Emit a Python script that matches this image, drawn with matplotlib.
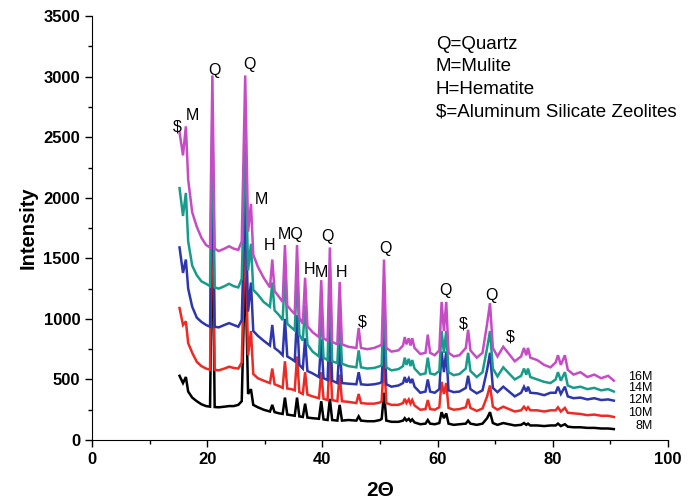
import matplotlib
matplotlib.use("Agg")
import matplotlib.pyplot as plt
from matplotlib.ticker import MultipleLocator

plt.rcParams['font.family'] = ['Liberation Sans', 'DejaVu Sans']

# 2-theta positions (deg), shared by all samples
two_theta = [
    15.2, 15.8, 16.3, 16.7, 17.4, 18.2, 19.0, 19.8, 20.5, 20.9, 21.3, 22.0, 23.0, 23.8, 24.6, 25.4, 26.0,
    26.6, 27.1, 27.6, 28.0, 28.8, 29.8, 30.9,
    31.3, 31.7, 32.5, 33.1, 33.5, 33.9, 34.6, 35.2, 35.6, 36.0, 36.6, 37.0, 37.4, 38.3, 39.4, 39.8,
    40.2, 40.9, 41.3, 41.7, 42.6, 43.0, 43.4,
    44.5, 45.9, 46.3, 46.7, 47.8, 49.0, 50.0, 50.3, 50.7, 51.1, 52.0, 53.2,
    54.0, 54.3, 54.6, 55.0, 55.3, 55.6, 56.0, 57.0, 57.9, 58.3, 58.7, 59.5,
    60.3, 60.7, 61.1, 61.5, 61.9, 62.8, 63.8, 64.9, 65.3, 65.7, 66.8, 67.8,
    68.6, 69.1, 69.6, 70.4, 71.4, 72.4, 73.4, 74.5, 75.0, 75.4, 75.7, 76.1, 77.3, 78.5, 79.6,
    80.5, 80.9, 81.4, 82.1, 82.6, 83.6, 84.8, 86.0, 87.2, 88.4, 89.6, 90.6,
]

int_8M = [
    530, 470, 520, 400, 350, 320, 295, 280, 275, 1900, 272, 270, 275, 280, 280, 290, 320,
    1500, 380, 420, 290, 270, 250, 235,
    290, 230, 220, 215, 350, 210, 205, 200, 350, 195, 190, 300, 185, 180, 175, 320,
    170, 165, 340, 165, 160, 290, 160,
    165, 160, 195, 160, 155, 155, 165, 175, 390, 160, 150, 150,
    160, 180, 160, 175, 155, 170, 145, 130, 135, 165, 135, 130,
    140, 230, 180, 220, 135, 125, 130, 135, 160, 135, 125, 135,
    180, 230, 140, 125, 140, 130, 120, 125, 140, 125, 135, 120, 120, 115, 120,
    120, 135, 115, 130, 110, 105, 105, 100, 100, 95, 95, 90,
]

int_10M = [
    1090, 950, 980, 800, 720, 645, 610, 590, 580, 2300, 580, 575, 590, 605, 595, 590, 640,
    1800, 700, 900, 545, 510, 490, 470,
    590, 460, 445, 430, 650, 425, 420, 410, 690, 395, 380, 560, 375, 360, 345, 560,
    340, 330, 700, 330, 320, 540, 320,
    315, 305, 380, 305, 300, 300, 310, 320, 700, 305, 290, 290,
    305, 340, 305, 335, 300, 330, 285, 250, 255, 330, 255, 250,
    270, 480, 380, 470, 265, 250, 255, 270, 340, 265, 240, 260,
    360, 450, 275, 250, 275, 255, 235, 245, 275, 250, 270, 245, 245, 235, 245,
    245, 270, 235, 265, 225, 220, 215, 205, 210, 200, 200, 190,
]

int_12M = [
    1590, 1380, 1490, 1250, 1100, 1010, 975, 950, 935, 2450, 935, 930, 950, 965, 950, 935, 990,
    2050, 1060, 1300, 900, 860, 820, 780,
    950, 760, 730, 700, 1000, 690, 670, 650, 1030, 620, 590, 840, 570, 550, 520, 830,
    510, 495, 1000, 490, 470, 800, 470,
    465, 460, 560, 460, 455, 460, 470, 480, 950, 460, 440, 450,
    470, 520, 475, 510, 470, 505, 440, 390, 400, 500, 400, 390,
    420, 730, 560, 730, 410, 395, 400, 430, 530, 420, 385, 410,
    580, 720, 430, 395, 440, 400, 360, 390, 440, 400, 440, 390, 385, 370, 390,
    390, 440, 380, 440, 360, 345, 350, 335, 345, 330, 335, 325,
]

int_14M = [
    2080, 1850, 2040, 1640, 1440, 1360, 1310, 1290, 1270, 2700, 1260, 1250, 1270, 1290, 1270, 1260, 1330,
    2450, 1400, 1620, 1240, 1200, 1140, 1100,
    1300, 1070, 1030, 990, 1370, 960, 930, 905, 1370, 870, 820, 1110, 790, 730, 690, 1070,
    680, 660, 1280, 650, 635, 1040, 630,
    610, 600, 740, 600, 590, 595, 610, 620, 1200, 600, 575, 585,
    610, 680, 620, 670, 610, 660, 590, 540, 550, 680, 550, 540,
    570, 900, 720, 900, 560, 535, 545, 590, 720, 570, 520, 560,
    760, 900, 590, 525, 600, 550, 500, 530, 590, 540, 590, 520, 500, 480, 470,
    500, 560, 490, 560, 450, 430, 440, 420, 430, 410, 420, 400,
]

int_16M = [
    2540, 2350, 2590, 2150, 1880, 1760, 1670, 1610, 1590, 3010, 1580, 1560, 1580, 1600, 1580, 1570, 1640,
    3010, 1720, 1950, 1530, 1430, 1340, 1260,
    1490, 1230, 1180, 1140, 1610, 1110, 1070, 1040, 1610, 1010, 960, 1340, 940, 890, 850, 1320,
    840, 820, 1590, 810, 790, 1305, 790,
    770, 760, 925, 760, 750, 760, 780, 790, 1490, 760, 730, 740,
    780, 850, 790, 840, 780, 840, 760, 710, 720, 870, 720, 700,
    740, 1140, 900, 1140, 720, 690, 700, 760, 910, 740, 680, 720,
    960, 1130, 760, 690, 770, 710, 650, 690, 760, 700, 760, 680, 660, 620, 600,
    640, 700, 620, 700, 580, 540, 560, 520, 540, 510, 530, 490,
]

samples = ['8M', '10M', '12M', '14M', '16M']
colors = ['#000000', '#ee2a24', '#2d36ad', '#179c8b', '#c64cc6']
label_y = [112, 220, 332, 428, 522]

# phase marks above the peaks
phase_marks = ['$', 'M', 'Q', 'Q', 'M', 'H', 'MQ', 'Q', 'H', 'M', 'H', '$', 'Q', 'Q', '$', 'Q', '$']
mark_x = [14.9, 17.5, 21.2, 27.3, 29.5, 30.9, 34.4, 40.8, 37.7, 39.9, 43.4, 46.9, 50.9, 61.3, 64.4, 69.4, 72.7]
mark_y = [2585, 2683, 3055, 3104, 1982, 1610, 1700, 1684, 1404, 1380, 1387, 974, 1585, 1238, 958, 1189, 850]

key_lines = ['Q=Quartz', 'M=Mulite', 'H=Hematite', '$=Aluminum Silicate Zeolites']

fig = plt.figure(figsize=(6.89, 5.04), dpi=100)
ax = fig.add_axes([0.1335, 0.127, 0.836, 0.841])

series = [int_8M, int_10M, int_12M, int_14M, int_16M]
for ys, c in zip(series, colors):
    ax.plot(two_theta, ys, color=c, lw=1.8, solid_joinstyle='miter')

for name, ly in zip(samples, label_y):
    ax.text(97.3, ly, name, ha='right', va='center', fontsize=9)

for m, mx, my in zip(phase_marks, mark_x, mark_y):
    ax.text(mx, my, m, ha='center', va='center', fontsize=11.5)

for i, line in enumerate(key_lines):
    ax.text(59.7, 3265 - i * 185, line, ha='left', va='center', fontsize=13.5)

ax.set_xlim(0, 100)
ax.set_ylim(0, 3500)
ax.xaxis.set_major_locator(MultipleLocator(20))
ax.xaxis.set_minor_locator(MultipleLocator(10))
ax.yaxis.set_major_locator(MultipleLocator(500))
ax.yaxis.set_minor_locator(MultipleLocator(250))
ax.tick_params(which='major', direction='out', length=5, width=1, labelsize=12)
ax.tick_params(which='minor', direction='out', length=3, width=1)
for lbl in ax.get_xticklabels() + ax.get_yticklabels():
    lbl.set_fontweight('bold')

ax.spines['top'].set_visible(False)
ax.spines['right'].set_visible(False)

ax.set_xlabel('2\u0398', fontsize=15, fontweight='bold', labelpad=10)
ax.set_ylabel('Intensity', fontsize=14.5, fontweight='bold', labelpad=4)

fig.savefig('out.png', dpi=100)
